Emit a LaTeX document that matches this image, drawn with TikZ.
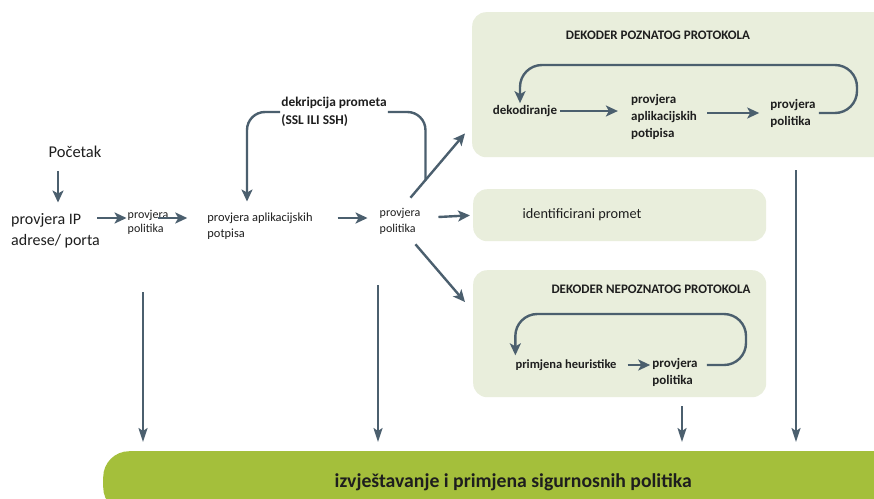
\documentclass[tikz,border=0pt]{standalone}
\usepackage{fontspec}
\setmainfont{Carlito}
\usepackage{tikz}
\usetikzlibrary{arrows.meta}
\usepackage{xcolor}
\definecolor{strelica}{HTML}{4B5F6E}
\definecolor{kutija}{HTML}{E9EEDC}
\definecolor{traka}{HTML}{A4BF3B}
\definecolor{slova}{HTML}{1E1E1E}

\begin{document}
\begin{tikzpicture}[x=1pt, y=-1pt,
    tok/.style={draw=strelica, line width=2.4pt},
    str/.style={tok, -{Stealth[length=12pt, width=11pt, inset=3pt]}},
    dolje/.style={draw=strelica, line width=2pt, -{Stealth[length=14pt, width=9pt, inset=3pt]}, shorten >=9pt},
    okvir/.style={fill=kutija, rounded corners=14pt, anchor=north west},
    tekst/.style={text=slova, font=\fontsize{16.5}{21}\selectfont, align=left, inner sep=1pt},
    mali/.style={text=slova, font=\fontsize{12}{14}\selectfont, align=left, inner sep=1pt},
    crni/.style={text=slova, font=\bfseries\fontsize{13}{17}\selectfont, align=left, inner sep=1pt}]
    \clip (0,0) rectangle (874,498);
    \fill[white] (0,0) rectangle (874,498);
    % Okviri
    \node[okvir, minimum width=430pt, minimum height=145pt] (dek1) at (472,12) {};
    \node[okvir, minimum width=293pt, minimum height=52pt] (kid) at (473,189) {};
    \node[okvir, minimum width=293pt, minimum height=127pt] (dek2) at (473,270) {};
    \node[fill=traka, rounded corners=26pt, anchor=north west, minimum width=820pt, minimum height=62pt,
          text=slova, font=\bfseries\fontsize{19.7}{22}\selectfont] (izvj) at (103,451)
          {izvještavanje i primjena sigurnosnih politika};
    % Lijevi dio
    \node[tekst] (poc) at (75,152) {Početak};
    \node[tekst, font=\fontsize{16}{21}\selectfont, anchor=west] (ip) at (10,231) {provjera IP\\adrese/ porta};
    \node[mali] (pol1) at (148,222) {provjera\\politika};
    \node[mali, font=\fontsize{12.4}{16}\selectfont] (apl) at (260,226) {provjera aplikacijskih\\potpisa};
    \node[mali, font=\fontsize{12}{16}\selectfont] (pol2) at (400,221) {provjera\\politika};
    \node[crni, font=\bfseries\fontsize{13.4}{18}\selectfont] (dekr) at (334,112) {dekripcija prometa\\(SSL ILI SSH)};
    \coordinate (p0) at ([xshift=-17pt]poc.south);
    \draw[str, shorten >=10pt] ([yshift=-12pt]p0) -- (p0 |- ip.north);
    \draw[str] ([xshift=87pt, yshift=13pt]ip.west) -- ([yshift=4pt]pol1.west);
    \draw[str] ([xshift=-11pt, yshift=4pt]pol1.east) -- ([xshift=-19pt, yshift=8pt]apl.west);
    \draw[str] ([xshift=24pt, yshift=8pt]apl.east) -- ([xshift=-11pt, yshift=3pt]pol2.west);
    \draw[tok, rounded corners=18pt] ([xshift=4pt, yshift=26pt]pol2.north east) |- (dekr.east);
    \draw[str, rounded corners=18pt] (dekr.west) -| ([xshift=-13pt, yshift=10pt]apl.north);
    % Grananje
    \draw[str] ([xshift=-11pt, yshift=9pt]pol2.north east) -- ([xshift=-7pt, yshift=24pt]dek1.south west);
    \draw[str, shorten >=3pt] ([xshift=17pt, yshift=4pt]pol2.east) -- (kid.west);
    \draw[str] ([xshift=-6pt, yshift=-9pt]pol2.south east) -- ([xshift=-8pt, yshift=-32pt]dek2.north west);
    % Dekoder poznatog protokola
    \node[crni] (nasl1) at (658,35) {DEKODER POZNATOG PROTOKOLA};
    \node[crni] (dek) at (525,111) {dekodiranje};
    \node[crni] (apl2) at (664,117) {provjera\\aplikacijskih\\potipisa};
    \node[crni] (pol3) at (793,113) {provjera\\politika};
    \coordinate (d1) at (apl2.west |- dek.east);
    \coordinate (a2) at (apl2.east |- pol3.west);
    \draw[str] ([xshift=2pt]dek.east) -- ([xshift=-12pt]d1);
    \draw[str] ([xshift=9pt]a2) -- ([xshift=-10pt]pol3.west);
    \coordinate (k1) at (857,65);
    \draw[str, rounded corners=22pt] ([xshift=2pt]pol3.east) -| (k1) -| ([xshift=-5pt, yshift=1pt]dek.north);
    % Identificirani promet
    \node[tekst, font=\fontsize{14.3}{17}\selectfont] (idp) at (582,215) {identificirani promet};
    % Dekoder nepoznatog protokola
    \node[crni] (nasl2) at (651,289) {DEKODER NEPOZNATOG PROTOKOLA};
    \node[crni, font=\bfseries\fontsize{12.5}{17}\selectfont] (heur) at (566,365) {primjena heuristike};
    \node[crni] (pol4) at (675,372) {provjera\\politika};
    \coordinate (p4) at (pol4.east |- heur.east);
    \coordinate (k2) at (746,314);
    \draw[str, shorten >=1pt] ([xshift=10pt]heur.east) -- (heur.east -| pol4.west);
    \draw[str, rounded corners=22pt] ([xshift=8pt]p4) -| (k2) -| ([xshift=1pt, yshift=3pt]heur.north west);
    % Prema izvjestavanju
    \coordinate (s1) at (143,292);
    \coordinate (s2) at (378,285);
    \coordinate (s3) at (682,406);
    \coordinate (s4) at (796,170);
    \foreach \s in {s1,s2,s3,s4}
        \draw[dolje] (\s) -- (\s |- izvj.north);
\end{tikzpicture}
\end{document}
